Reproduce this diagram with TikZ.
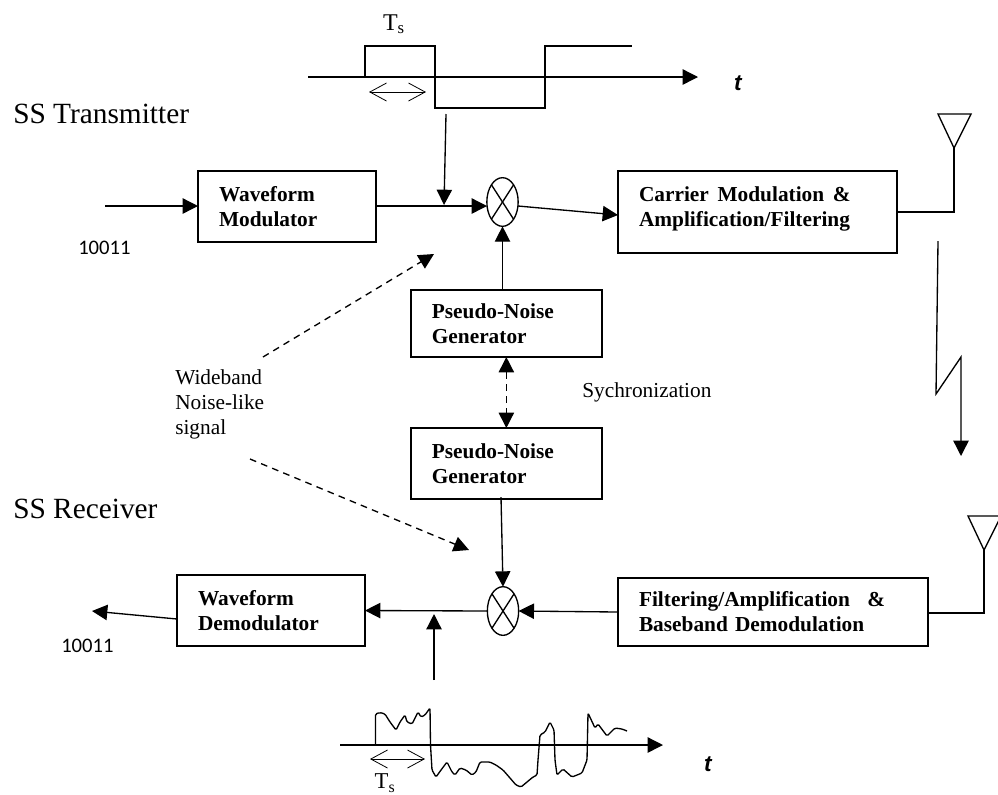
\documentclass[tikz,border=0pt]{standalone}
\usepackage{fontspec}
\setmainfont{Liberation Serif}
\newfontfamily\labelfont{Carlito}
\newfontfamily\axisfont{Liberation Sans}
\usetikzlibrary{shapes.geometric,arrows.meta}
\tikzset{
  blockbox/.style 2 args={shape=rectangle,draw=black,align=left,line width=1pt,outer sep=0pt,inner xsep=15.75pt,text width=#1,minimum height=#2,font=\fontsize{16}{18.75}\selectfont\bfseries},
  mixer/.style={shape=ellipse,draw=black,line width=1pt,minimum width=23.5pt,minimum height=36.5pt,inner sep=0pt,outer sep=0pt},
  txt/.style={align=left,inner sep=0pt},
  wire/.style={-,draw=black,line width=1pt},
  arrow/.style={-{Triangle[length=11.5pt,width=11.5pt]},draw=black,line width=1pt},
  dasharrow/.style={arrow,dash pattern=on 5pt off 4pt},
  span/.style={{Straight Barb[length=12.5pt,width=13.5pt,line width=0.6pt]}-{Straight Barb[length=12.5pt,width=13.5pt,line width=0.6pt]},draw=black,line width=0.6pt},
}
\begin{document}
\begin{tikzpicture}[x=0.75pt,y=-0.75pt]
\useasboundingbox (0,0) rectangle (998,794);
\node[blockbox={102pt}{53.25pt}] (wmod) at (287,206.5) {Waveform\\Modulator};
\node[blockbox={177.75pt}{61.5pt}] (carrier) at (757.5,212) {Carrier\hspace{6.5pt}Modulation\hspace{6.5pt}\&\\Amplification/Filtering\\[-10.15pt]\mbox{}};
\node[blockbox={111.75pt}{50.25pt}] (pn1) at (506.35,323.5) {Pseudo-Noise\\Generator};
\node[blockbox={111.75pt}{53.25pt}] (pn2) at (506.35,463.5) {Pseudo-Noise\\Generator};
\node[blockbox={201pt}{51pt}] (filter) at (773,612) {Filtering/Amplification\hspace{13pt}\&\\Baseband Demodulation};
\node[blockbox={109.5pt}{53.25pt}] (wdem) at (271,610.5) {Waveform\\Demodulator};
\node[mixer] (mix1) at (502.5,202) {};
\node[mixer] (mix2) at (503,611) {};
\node[txt,font=\fontsize{22}{26}\selectfont,anchor=west] (txtitle) at (13,114) {SS Transmitter};
\node[txt,font=\fontsize{22}{26}\selectfont,anchor=west] (rxtitle) at (13,509) {SS Receiver};
\node[txt,font=\fontsize{15.5}{18}\selectfont\labelfont,anchor=west] (bits1) at (78,248) {10011};
\node[txt,font=\fontsize{15.5}{18}\selectfont\labelfont,anchor=west] (bits2) at (61,646) {10011};
\node[txt,font=\fontsize{16}{18.75}\selectfont,anchor=north west] (wide) at (175,369) {Wideband\\Noise-like\\signal};
\node[txt,font=\fontsize{16}{18}\selectfont,anchor=west] (sync) at (582,392) {Sychronization};
\node[txt,font=\fontsize{18}{20}\selectfont] (ts1) at (394,24) {T\textsubscript{s}};
\node[txt,font=\fontsize{17}{19}\selectfont] (ts2) at (385,783) {T\textsubscript{s}};
\node[txt,font=\fontsize{17}{19}\selectfont\axisfont\bfseries\itshape] (t1) at (738,83) {t};
\node[txt,font=\fontsize{17}{19}\selectfont\axisfont\bfseries\itshape] (t2) at (708,764) {t};

\coordinate (in) at (105,206);
\coordinate (wmodout) at (376,206);
\coordinate (mix1in) at (487,206);
\coordinate (mix1out) at (518,206);
\coordinate (carrierin) at (618,215);
\coordinate (code1) at (446,114);
\coordinate (code1end) at (444,205);
\coordinate (pn2out) at (501,497);
\coordinate (out) at (92,611);
\coordinate (wdemout) at (177,619);
\coordinate (code2) at (434,680);
\coordinate (code2end) at (434,614);
\coordinate (dash1a) at (263,357);
\coordinate (dash1b) at (434,254);
\coordinate (dash2a) at (250,459);
\coordinate (dash2b) at (469,550);
\coordinate (ant1) at (954,148);
\coordinate (ant1a) at (938,114);
\coordinate (ant1b) at (971,114);
\coordinate (ant1c) at (954,212);
\coordinate (ant2) at (984,550);
\coordinate (ant2a) at (968,516);
\coordinate (ant2b) at (1001,516);
\coordinate (ant2c) at (984,613);
\coordinate (axis1a) at (308,77);
\coordinate (axis1b) at (698,77);
\coordinate (axis2a) at (340,745);
\coordinate (axis2b) at (663,745);
\coordinate (span1a) at (369,92);
\coordinate (span1b) at (426,92);
\coordinate (span2a) at (370,759);
\coordinate (span2b) at (425,759);
\coordinate (bolt1) at (938,241);
\coordinate (bolt2) at (936,394);
\coordinate (bolt3) at (961,357);
\coordinate (bolt4) at (961,456);

\draw[wire] (mix1.north west) -- (mix1.south east);
\draw[wire] (mix1.north east) -- (mix1.south west);
\draw[wire] (mix2.north west) -- (mix2.south east);
\draw[wire] (mix2.north east) -- (mix2.south west);

\draw[arrow] (in) -- (wmod.west |- in);
\draw[arrow] (wmodout) -- (mix1in);
\draw[arrow] (mix1out) -- (carrierin);
\draw[arrow] (code1) -- (code1end);
\draw[arrow] (pn1.north -| mix1) -- (mix1.south);
\draw[arrow] (pn2out) -- (mix2.north);
\draw[arrow] (filter.west) -- (mix2.east);
\draw[arrow] (mix2.west) -- (wdem.east);
\draw[arrow] (wdemout) -- (out);
\draw[arrow] (code2) -- (code2end);
\draw[dasharrow] (dash1a) -- (dash1b);
\draw[dasharrow] (dash2a) -- (dash2b);
\draw[dasharrow,{Triangle[length=11.5pt,width=11.5pt]}-{Triangle[length=11.5pt,width=11.5pt]}] (pn1.south) -- (pn2.north);

\draw[wire] (ant1a) -- (ant1b) -- (ant1) -- cycle;
\draw[wire] (ant1) -- (ant1c) -- (carrier.east |- ant1c);
\draw[wire] (ant2a) -- (ant2b) -- (ant2) -- cycle;
\draw[wire] (ant2) -- (ant2c) -- (filter.east |- ant2c);
\draw[arrow] (bolt1) -- (bolt2) -- (bolt3) -- (bolt4);

\draw[arrow] (axis1a) -- (axis1b);
\draw[arrow] (axis2a) -- (axis2b);
\draw[wire] (365,77) -- (365,46) -- (435,46) -- (435,108) -- (545,108) -- (545,46) -- (632,46);
\draw[span] (span1a) -- (span1b);
\draw[span] (span2a) -- (span2b);
\draw[wire,rounded corners=1pt] (375.5,745) -- (375.5,714) -- (380,712.5) -- (385,714) -- (390,722) -- (396,730) -- (400,722) -- (405,715) -- (407,722) -- (412,724) -- (418,712) -- (421,717) -- (425,715) -- (430,708) -- (430.5,745) -- (432,770) -- (436,777) -- (441,770) -- (447,762) -- (452,772) -- (455,775) -- (460,768) -- (466,770) -- (472,775) -- (476,772) -- (480,762) -- (490,762) -- (496,765) -- (503,770) -- (510,778) -- (516,785) -- (521,787) -- (533,777) -- (537,775) -- (538,760) -- (540,735) -- (545,732) -- (550,722) -- (554,730) -- (555,760) -- (557,775) -- (563,769) -- (572,777) -- (582,773) -- (587,760) -- (588,713) -- (595,728) -- (598,724) -- (607,736) -- (615,728) -- (622,729) -- (627,731);
\end{tikzpicture}
\end{document}
